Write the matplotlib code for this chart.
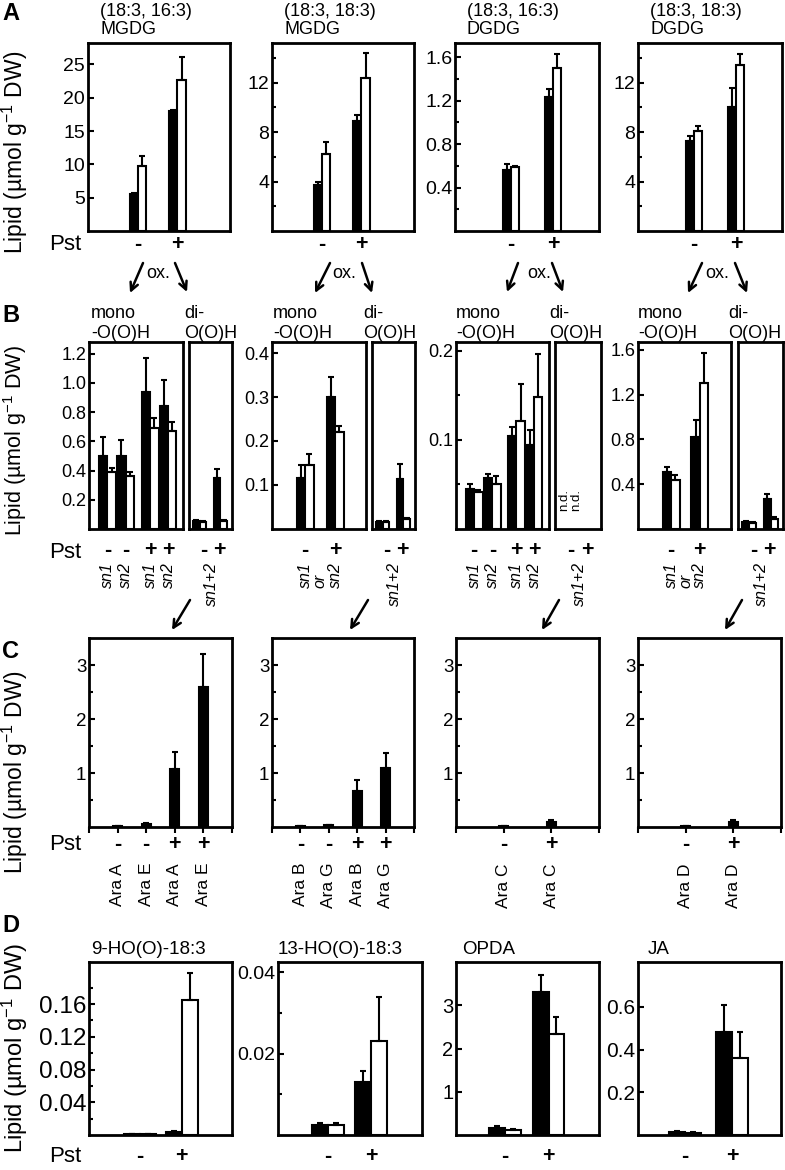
import numpy as np
import matplotlib
matplotlib.use('Agg')
import matplotlib.pyplot as plt
from matplotlib.transforms import blended_transform_factory

plt.rcParams['font.family'] = ['Liberation Sans', 'DejaVu Sans']
plt.rcParams['mathtext.fontset'] = 'custom'
plt.rcParams['mathtext.rm'] = 'Liberation Sans'
plt.rcParams['mathtext.default'] = 'regular'

# ---------------- data ----------------
pst = ['-', '+']

# A: intact galactolipids (black / white bars, Pst - and +)
a_titles = [('(18:3, 16:3)', 'MGDG'), ('(18:3, 18:3)', 'MGDG'),
            ('(18:3, 16:3)', 'DGDG'), ('(18:3, 18:3)', 'DGDG')]
a_black = [[5.5, 18.0], [3.7, 8.9], [0.56, 1.23], [7.3, 10.0]]
a_black_sd = [[0.2, 0.1], [0.25, 0.5], [0.06, 0.08], [0.4, 1.6]]
a_white = [[9.7, 22.7], [6.2, 12.4], [0.59, 1.50], [8.1, 13.4]]
a_white_sd = [[1.5, 3.4], [1.0, 2.0], [0.01, 0.13], [0.35, 0.9]]
a_ylim = [28.2, 15.2, 1.73, 15.2]
a_major = [[5, 10, 15, 20, 25], [4, 8, 12], [0.4, 0.8, 1.2, 1.6], [4, 8, 12]]
a_minor = [[], [2, 6, 10, 14], [0.2, 0.6, 1.0, 1.4], [2, 6, 10, 14]]
a_fmt = ['%g', '%g', '%.1f', '%g']

# B: mono- and di-oxidized species
b_mono_pst = [['-', '-', '+', '+'], ['-', '+'], ['-', '-', '+', '+'], ['-', '+']]
b_mono_sn = [['sn1', 'sn2', 'sn1', 'sn2'], ['sn1', 'or', 'sn2'],
             ['sn1', 'sn2', 'sn1', 'sn2'], ['sn1', 'or', 'sn2']]
b_mono_black = [[0.50, 0.50, 0.94, 0.84], [0.115, 0.30],
                [0.045, 0.057, 0.104, 0.094], [0.51, 0.82]]
b_mono_black_sd = [[0.13, 0.11, 0.23, 0.18], [0.03, 0.045],
                   [0.006, 0.005, 0.011, 0.017], [0.04, 0.15]]
b_mono_white = [[0.39, 0.36, 0.69, 0.67], [0.145, 0.22],
                [0.041, 0.050, 0.121, 0.148], [0.44, 1.30]]
b_mono_white_sd = [[0.03, 0.03, 0.07, 0.065], [0.025, 0.013],
                   [0.003, 0.009, 0.042, 0.048], [0.04, 0.27]]
b_di_black = [[0.055, 0.35], [0.017, 0.114], None, [0.06, 0.27]]
b_di_black_sd = [[0.008, 0.06], [0.002, 0.034], None, [0.01, 0.045]]
b_di_white = [[0.045, 0.055], [0.016, 0.022], None, [0.05, 0.09]]
b_di_white_sd = [[0.008, 0.008], [0.002, 0.003], None, [0.01, 0.02]]
b_ylim = [1.28, 0.425, 0.21, 1.67]
b_major = [[0.2, 0.4, 0.6, 0.8, 1.0, 1.2], [0.1, 0.2, 0.3, 0.4], [0.1, 0.2],
           [0.4, 0.8, 1.2, 1.6]]
b_minor = [[], [], [0.05, 0.15], []]

# C: arabidopsides
c_names = [['Ara A', 'Ara E', 'Ara A', 'Ara E'], ['Ara B', 'Ara G', 'Ara B', 'Ara G'],
           ['Ara C', 'Ara C'], ['Ara D', 'Ara D']]
c_pst = [['-', '-', '+', '+'], ['-', '-', '+', '+'], ['-', '+'], ['-', '+']]
c_vals = [[0.01, 0.05, 1.08, 2.6], [0.01, 0.03, 0.67, 1.1], [0.02, 0.1], [0.02, 0.1]]
c_sd = [[0.0, 0.03, 0.31, 0.6], [0.0, 0.01, 0.2, 0.27], [0.0, 0.03], [0.0, 0.03]]
c_major = [1, 2, 3]
c_minor = [0.5, 1.5, 2.5]

# D: free oxylipins
d_titles = ['9-HO(O)-18:3', '13-HO(O)-18:3', 'OPDA', 'JA']
d_black = [[0.001, 0.004], [0.0025, 0.013], [0.17, 3.3], [0.016, 0.48]]
d_black_sd = [[0.0005, 0.001], [0.0005, 0.0027], [0.03, 0.4], [0.004, 0.13]]
d_white = [[0.001, 0.165], [0.0025, 0.023], [0.12, 2.33], [0.01, 0.36]]
d_white_sd = [[0.0005, 0.033], [0.0005, 0.011], [0.01, 0.4], [0.003, 0.12]]
d_ylim = [0.2115, 0.0425, 4.0, 0.81]
d_major = [[0.04, 0.08, 0.12, 0.16], [0.02, 0.04], [1, 2, 3], [0.2, 0.4, 0.6]]
d_minor = [[0.02, 0.06, 0.10, 0.14, 0.18], [0.01, 0.03], [], []]
d_fmt = ['%.2f', '%.2f', '%g', '%.1f']

ylab = 'Lipid (µmol g$^{-1}$ DW)'

# ---------------- layout (pixels) ----------------
W, H = 785, 1170
a_boxes = [(88, 230), (272, 414), (455, 599), (638, 782)]
a_y = (43, 231)
b_mono_boxes = [(89, 183), (272, 366), (456, 549), (638, 731)]
b_di_boxes = [(189, 232), (372, 415), (555, 601), (738, 783)]
b_y = (342, 529)
c_boxes = [(89, 232), (272, 414), (456, 599), (638, 781)]
c_y = (638, 827)
d_boxes = [(89, 232), (278, 422), (456, 599), (638, 781)]
d_y = (962, 1135)

fig = plt.figure(figsize=(W / 100, H / 100), dpi=100)
ov = fig.add_axes([0, 0, 1, 1], zorder=10)
ov.set_xlim(0, W)
ov.set_ylim(H, 0)
ov.axis('off')


def box(xs, ys):
    return fig.add_axes([xs[0] / W, 1 - ys[1] / H, (xs[1] - xs[0]) / W, (ys[1] - ys[0]) / H])


def frame(ax, top, major, minor, fmt, size):
    ax.set_xlim(0, 1)
    ax.set_ylim(0, top)
    for sp in ax.spines.values():
        sp.set_linewidth(2)
    ax.set_yticks(major)
    ax.set_yticklabels([fmt % v for v in major])
    ax.set_yticks(minor, minor=True)
    ax.tick_params(axis='y', which='both', direction='in', width=1.5,
                   labelsize=size, pad=2)
    ax.tick_params(axis='y', which='major', length=4)
    ax.tick_params(axis='y', which='minor', length=3)
    ax.tick_params(axis='x', which='both', length=0, labelbottom=False)


def err(ax, x, y, sd):
    ax.errorbar(x, y, yerr=[np.zeros(len(y)), sd], fmt='none', ecolor='black',
                elinewidth=1.5, capsize=2.2, capthick=1.5)


def pair(ax, cent, w, black, bsd, white, wsd):
    c = np.array(cent)
    ax.bar(c - w / 2, black, w, color='black', edgecolor='black', linewidth=1.5)
    ax.bar(c + w / 2, white, w, color='white', edgecolor='black', linewidth=1.5)
    err(ax, c - w / 2, black, bsd)
    err(ax, c + w / 2, white, wsd)


def under(ax, x, y, s, **kw):
    tr = blended_transform_factory(ax.transData, ov.transData)
    ov.text(x, y, s, transform=tr, **kw)


sign_kw = dict(ha='center', va='center', fontsize=15.5, fontweight='bold')

# ---------------- A ----------------
a_cent = [[0.35, 0.63], [0.35, 0.63], [0.39, 0.68], [0.39, 0.68]]
for i in range(4):
    ax = box(a_boxes[i], a_y)
    frame(ax, a_ylim[i], a_major[i], a_minor[i], a_fmt[i], 14)
    pair(ax, a_cent[i], 0.057, a_black[i], a_black_sd[i], a_white[i], a_white_sd[i])
    for c, s in zip(a_cent[i], pst):
        under(ax, c, 244, s, **sign_kw)
    ov.text(a_boxes[i][0] + 12, 12, a_titles[i][0], fontsize=13, va='center')
    ov.text(a_boxes[i][0] + 12, 29, a_titles[i][1], fontsize=13, va='center')

# "ox." arrows between A and B
ox_arrows = [((143, 263), (130, 293), (158, 273), (175, 263), (187, 292)),
             ((330, 263), (315, 293), (344, 273), (362, 263), (372, 293)),
             ((518, 263), (507, 292), (539, 273), (552, 263), (563, 292)),
             ((702, 263), (688, 293), (717, 273), (735, 263), (747, 293))]
arr = dict(arrowstyle='->', lw=1.8, color='black', shrinkA=0, shrinkB=0,
           mutation_scale=14)
for l0, l1, t, r0, r1 in ox_arrows:
    ov.annotate('', xy=l1, xytext=l0, arrowprops=arr)
    ov.annotate('', xy=r1, xytext=r0, arrowprops=arr)
    ov.text(t[0], t[1], 'ox.', ha='center', va='center', fontsize=13)

# ---------------- B ----------------
mono4 = [0.195, 0.39, 0.65, 0.84]
mono2 = [[0.353, 0.671], [0.357, 0.664]]
di_cent = [0.25, 0.725]
di_lab = [0.35, 0.70]
mono_x = [91, 273, 456, 638]
di_x = [184, 363, 549, 728]
for i in range(4):
    ax = box(b_mono_boxes[i], b_y)
    frame(ax, b_ylim[i], b_major[i], b_minor[i], '%.1f', 13)
    cent = mono4 if len(b_mono_black[i]) == 4 else mono2[i // 2]
    pair(ax, cent, 0.09, b_mono_black[i], b_mono_black_sd[i],
         b_mono_white[i], b_mono_white_sd[i])
    for c, s in zip(cent, b_mono_pst[i]):
        under(ax, c, 551, s, **sign_kw)
    if len(b_mono_sn[i]) == 4:
        sn_pos = cent
    else:
        sn_pos = [cent[0], (cent[0] + cent[1]) / 2, cent[1]]
    for c, s in zip(sn_pos, b_mono_sn[i]):
        under(ax, c, 562 if s != 'or' else 574, s, rotation=90, ha='center',
              va='top', fontsize=11.5, style='italic')

    dax = box(b_di_boxes[i], b_y)
    frame(dax, b_ylim[i], [], [], '%g', 12)
    if b_di_black[i] is not None:
        pair(dax, di_cent, 0.155, b_di_black[i], b_di_black_sd[i],
             b_di_white[i], b_di_white_sd[i])
    else:
        for xx in (0.19, 0.47):
            dax.text(xx, 0.155, 'n.d.', transform=dax.transAxes, rotation=90,
                     ha='center', va='center', fontsize=9.5)
    for c, s in zip(di_lab, pst):
        under(dax, c, 551, s, **sign_kw)
    under(dax, 0.53, 562, 'sn1+2', rotation=90, ha='center', va='top',
          fontsize=11.5, style='italic')

    ov.text(mono_x[i], 313, 'mono', fontsize=13, va='center')
    ov.text(mono_x[i], 333, '-O(O)H', fontsize=13, va='center')
    ov.text(di_x[i], 313, 'di-', fontsize=13, va='center')
    ov.text(di_x[i], 333, 'O(O)H', fontsize=13, va='center')

# arrows between B and C
bc_arrows = [((190, 600), (172, 630)), ((368, 600), (350, 630)),
             ((559, 600), (542, 630)), ((742, 600), (725, 630))]
for p0, p1 in bc_arrows:
    ov.annotate('', xy=p1, xytext=p0, arrowprops=arr)

# ---------------- C ----------------
for i in range(4):
    ax = box(c_boxes[i], c_y)
    frame(ax, 3.5, c_major, c_minor, '%g', 13.5)
    n = len(c_vals[i])
    pos = np.arange(1, n + 1) / (n + 1)
    ax.bar(pos, c_vals[i], 0.062, color='black', edgecolor='black', linewidth=1.5)
    err(ax, pos, c_vals[i], c_sd[i])
    ax.set_xticks(np.arange(0, n + 2) / (n + 1))
    ax.tick_params(axis='x', which='major', direction='out', length=4, width=1.5,
                   labelbottom=False)
    for c, s, nm in zip(pos, c_pst[i], c_names[i]):
        under(ax, c, 845, s, **sign_kw)
        under(ax, c, 863, nm, rotation=90, ha='center', va='top', fontsize=12.5)

# ---------------- D ----------------
d_cent = [[0.356, 0.649], [0.347, 0.648], [0.344, 0.647], [0.33, 0.658]]
d_size = [17.5, 14, 14.5, 15]
d_tx = [91, 278, 462, 648]
for i in range(4):
    ax = box(d_boxes[i], d_y)
    frame(ax, d_ylim[i], d_major[i], d_minor[i], d_fmt[i], d_size[i])
    pair(ax, d_cent[i], 0.11, d_black[i], d_black_sd[i], d_white[i], d_white_sd[i])
    for c, s in zip(d_cent[i], pst):
        under(ax, c, 1157, s, **sign_kw)
    ov.text(d_tx[i], 950, d_titles[i], fontsize=13.5, va='center')

# ---------------- row labels ----------------
for lab, y in zip('ABCD', [13, 315, 651, 926]):
    ov.text(2, y, lab, fontsize=17, fontweight='bold', va='center')
for y in [244, 553, 845, 1157]:
    ov.text(81, y, 'Pst', ha='right', va='center', fontsize=16)
for y, fs in zip([152, 440, 772, 1048], [16.5, 15.5, 16.5, 17]):
    ov.text(15, y, ylab, rotation=90, ha='center', va='center', fontsize=fs)

fig.savefig('out.png', dpi=100)
